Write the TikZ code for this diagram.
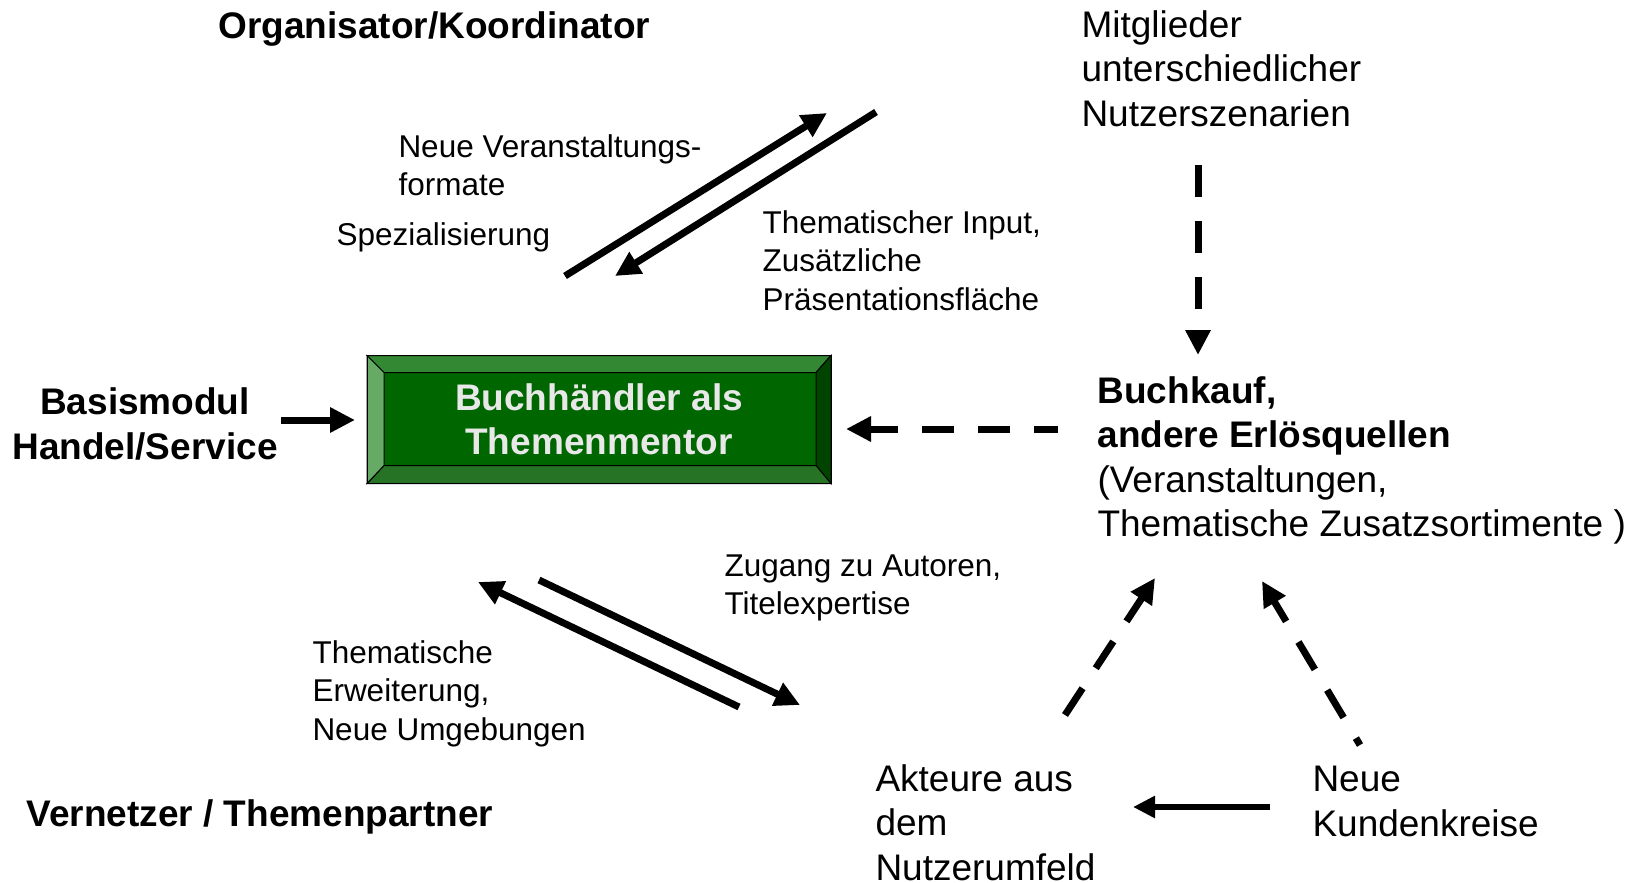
\documentclass[tikz,border=0pt]{standalone}
\usepackage{fontspec}
\setmainfont{Liberation Sans}
\usetikzlibrary{arrows.meta,calc}
\definecolor{gruen}{RGB}{0,102,0}
\definecolor{gruenoben}{RGB}{51,136,51}
\definecolor{gruenunten}{RGB}{38,115,38}
\definecolor{gruenlinks}{RGB}{102,170,102}
\definecolor{gruenrechts}{RGB}{0,68,0}
\definecolor{hellgrau}{RGB}{232,232,232}
\newcommand{\tgross}{\fontsize{37}{44.5}\selectfont}
\newcommand{\tklein}{\fontsize{31.5}{38.5}\selectfont}

\begin{document}
\begin{tikzpicture}[x=1pt,y=-1pt,>={Triangle[length=25pt,width=24pt]},line width=7pt]
  \tikzstyle{every node}=[inner sep=0pt,anchor=base west,align=left]
  \tikzstyle{gross}=[font=\tgross]
  \tikzstyle{grossfett}=[font=\tgross\bfseries]
  \tikzstyle{klein}=[font=\tklein]
  \tikzstyle{gestrichelt}=[dash pattern=on 32pt off 24pt]
  \tikzstyle{kante}=[line width=1pt,draw=black]
  \useasboundingbox (0,0) rectangle (1643,883);

  % Texte (base = Grundlinie der letzten Zeile)
  \node[grossfett] (O)  at (215,38)  {Organisator/Koordinator};
  \node[gross]     (M)  at (1078,126) {Mitglieder\\unterschiedlicher\\Nutzerszenarien};
  \node[klein]     (NV) at (395,195.5) {Neue Veranstaltungs-\\formate};
  \node[klein]     (S)  at (333,245) {Spezialisierung};
  \node[klein]     (TI) at (759,310) {Thematischer Input,\\Zusätzliche\\Präsentationsfläche};
  \node[grossfett,align=center,anchor=base] (BM) at (145,459) {Basismodul\\Handel/Service};
  \node[grossfett] (BK) at (1094,447.5) {Buchkauf,\\andere Erlösquellen};
  \node[gross]     (VT) at (1094,536.5) {(Veranstaltungen,\\Thematische Zusatzsortimente )};
  \node[klein]     (ZA) at (721,614.5) {Zugang zu Autoren,\\Titelexpertise};
  \node[klein]     (TE) at (309,740) {Thematische\\Erweiterung,\\Neue Umgebungen};
  \node[grossfett] (VP) at (23,826)  {Vernetzer / Themenpartner};
  \node[gross]     (AK) at (872,880) {Akteure aus\\dem\\Nutzerumfeld};
  \node[gross]     (NK) at (1309,836) {Neue\\Kundenkreise};

  % Themenmentor mit Rahmen
  \node[kante,fill=gruen,text=hellgrau,anchor=center,align=center,minimum width=463pt,
        minimum height=127pt,font=\fontsize{37}{44}\selectfont\bfseries] (T) at (599,419.5)
        {Buchhändler als\\Themenmentor};
  \coordinate (Ta) at ($(T.north west)+(17,17)$);
  \coordinate (Tb) at ($(T.north east)+(-15,17)$);
  \coordinate (Tc) at ($(T.south east)+(-15,-18)$);
  \coordinate (Td) at ($(T.south west)+(17,-18)$);
  \filldraw[kante,fill=gruenoben]   (T.north west) -- (T.north east) -- (Tb) -- (Ta) -- cycle;
  \filldraw[kante,fill=gruenrechts] (T.north east) -- (T.south east) -- (Tc) -- (Tb) -- cycle;
  \filldraw[kante,fill=gruenunten]  (T.south east) -- (T.south west) -- (Td) -- (Tc) -- cycle;
  \filldraw[kante,fill=gruenlinks]  (T.south west) -- (T.north west) -- (Ta) -- (Td) -- cycle;
  \draw[kante] (T.north west) rectangle (T.south east);

  % Pfeile
  \coordinate (a1) at (565,276);  \coordinate (a2) at (827,113);
  \coordinate (b1) at (876,112);  \coordinate (b2) at (615,276);
  \coordinate (c1) at (739,707);  \coordinate (c2) at (478,582);
  \coordinate (d1) at (539,580);  \coordinate (d2) at (800,705);
  \coordinate (e1) at (281,420);  \coordinate (e2) at (355,420);
  \coordinate (f1) at (1058,429); \coordinate (f2) at (846,429);
  \coordinate (g1) at (1198,165); \coordinate (g2) at (1198,355);
  \coordinate (h1) at (1065,715); \coordinate (h2) at (1155,578);
  \coordinate (i1) at (1360,745); \coordinate (i2) at (1262,581);
  \coordinate (k1) at (1270,807); \coordinate (k2) at (1133,807);

  \draw[->] (a1) -- (a2);
  \draw[->] (b1) -- (b2);
  \draw[->] (c1) -- (c2);
  \draw[->] (d1) -- (d2);
  \draw[->] (e1) -- (e2);
  \draw[->,gestrichelt,dash phase=8pt] (f1) -- (f2);
  \draw[->,gestrichelt] (g1) -- (g2);
  \draw[->,gestrichelt] (h1) -- (h2);
  \draw[->,gestrichelt,dash phase=24pt] (i1) -- (i2);
  \draw[-{Triangle[length=22pt,width=21pt]},line width=6pt] (k1) -- (k2);
\end{tikzpicture}
\end{document}
